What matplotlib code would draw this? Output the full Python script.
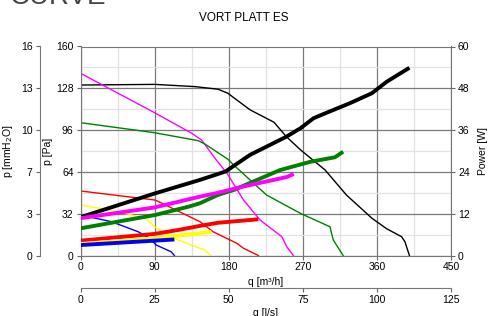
import numpy as np
import matplotlib
matplotlib.use("Agg")
import matplotlib.pyplot as plt

plt.rcParams['font.family'] = ['Liberation Sans', 'DejaVu Sans']

# pressure curves (q in m3/h, p in Pa)
black_q = [0, 90, 139, 167, 179, 190, 206, 235, 250, 267, 297, 323, 354, 372, 390, 394, 399.5]
black_p = [130.5, 131, 129.3, 127.3, 124.2, 119, 111.5, 102, 91, 81, 65.5, 46.3, 28.5, 20.4, 14.4, 10.6, 0]
mag_q = [0, 90, 135, 147, 165, 178, 198, 218, 244.5, 250.5, 258.6]
mag_p = [139.5, 109.3, 93.6, 88.4, 73.1, 62.9, 42.5, 27.2, 14.4, 6.7, 0]
green_q = [0, 90, 143, 151, 179, 186, 226, 267, 303, 307, 319]
green_p = [101.7, 94, 87.9, 85.4, 73.7, 69.3, 46.3, 32.3, 22, 11.9, 0]
red_q = [0, 90, 94, 145, 161, 190, 198, 216]
red_p = [49.4, 42.5, 41.5, 25.9, 18.2, 9.3, 5.5, 0]
yel_q = [0, 46, 80, 90, 116, 151, 158]
yel_p = [38.7, 33.5, 28.2, 22, 12.5, 4.2, 0]
blue_q = [0, 37.5, 70, 84, 92, 110, 114]
blue_p = [31, 25.9, 18.2, 13.2, 8, 2.9, 0]

# power curves (W)
blackw_q = [0, 90, 145, 167, 176, 206, 250, 267, 283, 297, 327, 354, 372, 399.5]
blackw_p = [11.0, 17.8, 21.7, 23.4, 24.1, 28.9, 34.1, 36.5, 39.4, 40.8, 43.7, 46.6, 49.9, 53.9]
magw_q = [0, 90, 145, 167, 194, 250, 259]
magw_p = [10.7, 13.8, 16.9, 18, 19.6, 22.5, 23.4]
greenw_q = [0, 90, 131, 145, 167, 186, 242, 279, 309, 319]
greenw_p = [7.8, 11.6, 14, 15, 17.4, 18.8, 24.5, 26.9, 28.2, 29.8]
redw_q = [0, 90, 118, 145, 167, 216]
redw_p = [4.25, 6.2, 7.3, 8.5, 9.4, 10.4]
yelw_q = [0, 90, 159]
yelw_p = [3.3, 4.9, 6.8]
bluew_q = [0, 114]
bluew_p = [3.0, 4.6]

q_ticks = [0, 90, 180, 270, 360, 450]
pa_ticks = [0, 32, 64, 96, 128, 160]
mm_labels = ["0", "3", "7", "10", "13", "16"]
w_ticks = [0, 12, 24, 36, 48, 60]
ls_ticks = [0, 25, 50, 75, 100, 125]

fig = plt.figure(figsize=(4.88, 3.16), dpi=100)
pos = [80.5 / 488, 1 - 255.5 / 316, (451 - 80.5) / 488, (255.5 - 46.5) / 316]

ax = fig.add_axes(pos)
ax.set_xlim(0, 450)
ax.set_ylim(0, 160)
ax.set_xticks(q_ticks)
ax.set_yticks(pa_ticks)
ax.set_xticks(np.arange(45, 450, 90), minor=True)
ax.set_yticks(np.arange(16, 160, 32), minor=True)
ax.grid(which='major', color='#7a7a7a', lw=0.9)
ax.grid(which='minor', color='#e2e2e2', lw=0.9)
ax.tick_params(which='minor', length=0)
ax.tick_params(labelsize=7.5, length=3, color='#666666', pad=2)
for s in ax.spines.values():
    s.set_color('#777777')
ax.set_xlabel('q [m³/h]', fontsize=7.5, labelpad=3)
ax.set_ylabel('p [Pa]', fontsize=7.5, labelpad=2)

tw = 1.0
ax.plot(black_q, black_p, color='black', lw=tw)
ax.plot(mag_q, mag_p, color='#ff00ff', lw=tw)
ax.plot(green_q, green_p, color='#008000', lw=tw)
ax.plot(red_q, red_p, color='#ff0000', lw=tw)
ax.plot(yel_q, yel_p, color='#ffff00', lw=tw)
ax.plot(blue_q, blue_p, color='#0000ff', lw=tw)

axw = ax.twinx()
axw.set_ylim(0, 60)
axw.set_yticks(w_ticks)
axw.tick_params(labelsize=7.5, length=3, color='#666666', pad=2)
for s in axw.spines.values():
    s.set_visible(False)
axw.set_ylabel('Power [W]', fontsize=7.5, labelpad=6)
th = 2.8
axw.plot(greenw_q, greenw_p, color='#008000', lw=th, solid_capstyle='butt')
axw.plot(blackw_q, blackw_p, color='black', lw=th, solid_capstyle='butt')
axw.plot(magw_q, magw_p, color='#ff00ff', lw=th, solid_capstyle='butt')
axw.plot(redw_q, redw_p, color='#ff0000', lw=th, solid_capstyle='butt')
axw.plot(yelw_q, yelw_p, color='#ffff00', lw=th, solid_capstyle='butt')
axw.plot(bluew_q, bluew_p, color='#0000ff', lw=th, solid_capstyle='butt')

# outer mmH2O axis
axm = fig.add_axes(pos, frameon=True)
axm.patch.set_visible(False)
for k in ['top', 'right', 'bottom']:
    axm.spines[k].set_visible(False)
axm.spines['left'].set_position(('outward', 29.5))
axm.spines['left'].set_color('#777777')
axm.set_ylim(0, 160)
axm.set_yticks(pa_ticks)
axm.set_yticklabels(mm_labels)
axm.set_xticks([])
axm.tick_params(labelsize=7.5, length=3, color='#666666', pad=2)
axm.set_ylabel('p [mmH$_2$O]', fontsize=7.5, labelpad=4)

# outer l/s axis
axl = fig.add_axes(pos, frameon=True)
axl.patch.set_visible(False)
for k in ['top', 'right', 'left']:
    axl.spines[k].set_visible(False)
axl.spines['bottom'].set_position(('outward', 23.6))
axl.spines['bottom'].set_color('#777777')
axl.set_xlim(0, 125)
axl.set_xticks(ls_ticks)
axl.set_yticks([])
axl.tick_params(labelsize=7.5, length=3, color='#666666', pad=2)
axl.set_xlabel('q [l/s]', fontsize=7.5, labelpad=2)

fig.text(244 / 488, 1 - 18 / 316, 'VORT PLATT ES', fontsize=8.5, ha='center', va='center')
fig.text(10 / 488, 1 - 3.5 / 316, 'CURVE', fontsize=20, color='#444444', ha='left', va='baseline')

fig.savefig('out.png', dpi=100)
